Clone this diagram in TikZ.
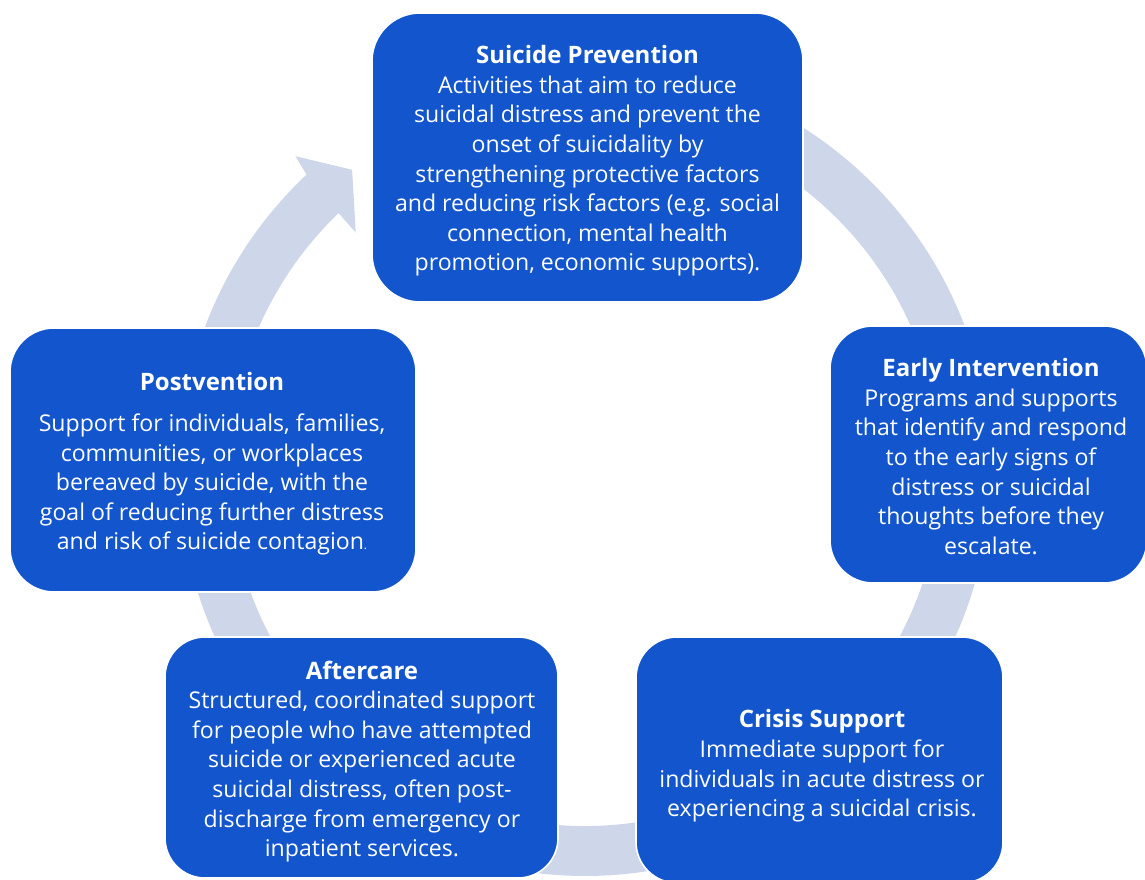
\documentclass[tikz,border=0pt]{standalone}
\usepackage{fontspec}
\setmainfont{Open Sans}
\definecolor{boxblue}{RGB}{18,85,205}
\definecolor{bandgray}{RGB}{206,214,234}
\newcommand{\cardtitle}[1]{{\fontsize{24}{29.6}\selectfont\bfseries #1}}
\begin{document}
\begin{tikzpicture}[x=1pt,y=1pt,
  card/.style={draw=white,line width=1.6pt,fill=boxblue,inner sep=0pt,outer sep=0pt},
  cardtext/.style={text=white,align=center,inner sep=0pt,font=\fontsize{23.1}{29.6}\selectfont},
  band/.style={fill=bandgray}]
\useasboundingbox (0,0) rectangle (1145,880);
\coordinate (C) at (585,410);
% circular arrow
\fill[band] ([shift={(133.3:406)}]C) arc[start angle=133.3,end angle=460,radius=406]
  -- ([shift={(460:356)}]C) arc[start angle=460,end angle=133.8,radius=356]
  -- ([shift={(134:330)}]C) -- ([shift={(127.8:380)}]C) -- ([shift={(132.7:427)}]C) -- cycle;
% boxes
\node[card,rounded corners=48pt,minimum width=431pt,minimum height=289pt] (b1) at (587.5,722.5) {};
\node[card,rounded corners=43pt,minimum width=317pt,minimum height=257pt] (b2) at (988.5,425.5) {};
\node[card,rounded corners=41pt,minimum width=367pt,minimum height=246pt] (b3) at (819.5,120) {};
\node[card,rounded corners=40pt,minimum width=393pt,minimum height=241pt] (b4) at (361.5,122.5) {};
\node[card,rounded corners=44pt,minimum width=406pt,minimum height=264pt] (b5) at (213,420) {};
% texts
\node[cardtext] (t1) at (587.5,719) {\cardtitle{Suicide Prevention}\\Activities that aim to reduce\\suicidal distress and prevent the\\onset of suicidality by\\strengthening protective factors\\and reducing risk factors (e.g. social\\connection, mental health\\promotion, economic supports).};
\node[cardtext] (t2) at (991,423.5) {\cardtitle{Early Intervention}\\Programs and supports\\that identify and respond\\to the early signs of\\distress or suicidal\\thoughts before they\\escalate.};
\node[cardtext] (t3) at (822,114) {\cardtitle{Crisis Support}\\Immediate support for\\individuals in acute distress or\\experiencing a suicidal crisis.};
\node[cardtext] (t4) at (362,118.5) {\cardtitle{Aftercare}\\Structured, coordinated support\\for people who have attempted\\suicide or experienced acute\\suicidal distress, often post-\\discharge from emergency or\\inpatient services.};
\node[cardtext] (t5) at (212,416) {\cardtitle{Postvention}\\[11pt]Support for individuals, families,\\communities, or workplaces\\bereaved by suicide, with the\\goal of reducing further distress\\and risk of suicide contagion{\fontsize{12}{12}\selectfont.}};
\end{tikzpicture}
\end{document}
